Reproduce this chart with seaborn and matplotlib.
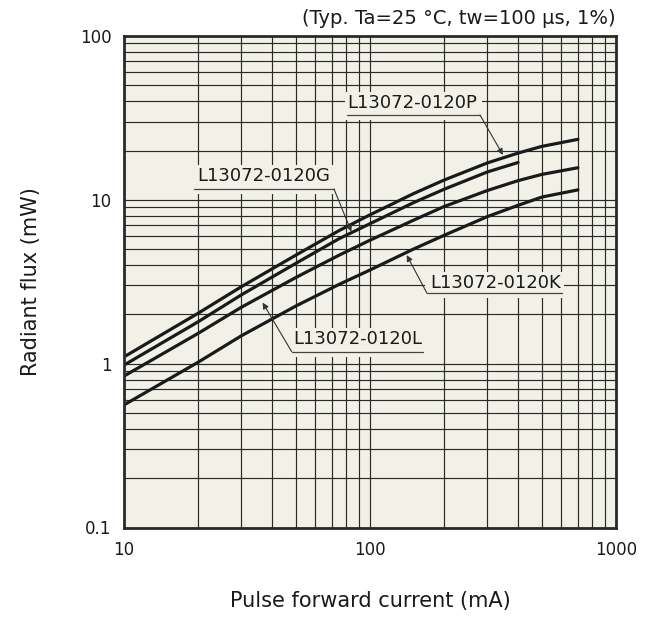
import numpy as np
import pandas as pd
import matplotlib
matplotlib.use("Agg")
import matplotlib.pyplot as plt
import matplotlib.ticker as mticker
import seaborn as sns

# ---- data ----
current_ma = [10, 20, 30, 50, 75, 100, 150, 200, 300, 400, 500, 700]
flux_P = [1.1, 2.03, 2.95, 4.6, 6.5, 8.1, 10.9, 13.2, 16.8, 19.3, 21.2, 23.4]
current_G = [10, 20, 30, 50, 75, 100, 150, 200, 300, 400]
flux_G = [0.98, 1.8, 2.63, 4.1, 5.8, 7.15, 9.6, 11.6, 14.8, 16.9]
flux_L = [0.84, 1.53, 2.21, 3.36, 4.6, 5.67, 7.5, 9.1, 11.4, 13.1, 14.3, 15.7]
flux_K = [0.56, 1.02, 1.48, 2.25, 3.05, 3.73, 5.0, 6.07, 7.9, 9.26, 10.4, 11.5]

series_names = ["L13072-0120P", "L13072-0120G", "L13072-0120L", "L13072-0120K"]
x_ticks = [10, 100, 1000]
y_ticks = [0.1, 1, 10, 100]
note_text = "(Typ. Ta=25 °C, tw=100 µs, 1%)"
x_label = "Pulse forward current (mA)"
y_label = "Radiant flux (mW)"

frames = [
    pd.DataFrame({"I": current_ma, "P": flux_P, "s": series_names[0]}),
    pd.DataFrame({"I": current_G, "P": flux_G, "s": series_names[1]}),
    pd.DataFrame({"I": current_ma, "P": flux_L, "s": series_names[2]}),
    pd.DataFrame({"I": current_ma, "P": flux_K, "s": series_names[3]}),
]
df = pd.concat(frames, ignore_index=True)

sns.set_style("white")
plt.rcParams["font.family"] = ["DejaVu Sans"]

W, H = 654, 625
fig = plt.figure(figsize=(W / 100, H / 100), dpi=100)
L, R, T, B = 124, 616, 36, 527.5
ax = fig.add_axes([L / W, (H - B) / H, (R - L) / W, (B - T) / H])
bg = "#f2f1e8"
ax.set_facecolor(bg)

sns.lineplot(data=df, x="I", y="P", hue="s", palette=["#1a1a1a"] * 4,
             linewidth=2.3, legend=False, ax=ax, sort=True, estimator=None, zorder=4)

ax.set_xscale("log")
ax.set_yscale("log")
ax.set_xlim(10, 1000)
ax.set_ylim(0.1, 100)

ax.xaxis.set_major_locator(mticker.FixedLocator(x_ticks))
ax.yaxis.set_major_locator(mticker.FixedLocator(y_ticks))
ax.xaxis.set_minor_locator(mticker.LogLocator(base=10, subs=np.arange(2, 10)))
ax.yaxis.set_minor_locator(mticker.LogLocator(base=10, subs=np.arange(2, 10)))
fmt = mticker.FuncFormatter(lambda v, p: f"{v:g}")
ax.xaxis.set_major_formatter(fmt)
ax.yaxis.set_major_formatter(fmt)
ax.xaxis.set_minor_formatter(mticker.NullFormatter())
ax.yaxis.set_minor_formatter(mticker.NullFormatter())

ax.grid(True, which="both", color="#2a2a2a", linewidth=0.85)
ax.set_axisbelow(True)
ax.tick_params(which="both", length=0, labelsize=12, colors="#1a1a1a")
ax.tick_params(axis="x", pad=9.5)
ax.tick_params(axis="y", pad=9)
for sp in ax.spines.values():
    sp.set_linewidth(2.0)
    sp.set_color("#2a2a2a")
    sp.set_zorder(6)

ax.set_xlabel(x_label, fontsize=15, labelpad=23, color="#1a1a1a")
ax.set_ylabel(y_label, fontsize=15, labelpad=28, color="#1a1a1a")

ax.text(1.0, 1 + (T - 18) / (B - T), note_text, transform=ax.transAxes,
        ha="right", va="center", fontsize=14, color="#1a1a1a")

def fx(px):
    return (px - L) / (R - L)

def fy(py):
    return (B - py) / (B - T)

# label: (name, text center px, underline y px, underline x0, x1, leader start x px, arrow tip data)
labels = [
    (series_names[0], (412, 103), 115, 347, 480, 480, (347, 18.8)),
    (series_names[1], (264, 176), 189, 194, 334, 334, (84, 6.4)),
    (series_names[2], (358, 339), 351.7, 291.7, 423, 291.7, (36.6, 2.36)),
    (series_names[3], (496, 283), 293.3, 427, 562, 427, (141, 4.6)),
]
for name, (cx, cy), uy, ux0, ux1, sx, tip in labels:
    ax.add_patch(plt.Rectangle((fx(ux0 - 2), fy(uy + 5)), fx(ux1 + 2) - fx(ux0 - 2),
                               fy(cy - 11) - fy(uy + 5), transform=ax.transAxes,
                               facecolor=bg, edgecolor="none", zorder=3))
    ax.text(fx(cx), fy(cy), name, transform=ax.transAxes, ha="center", va="center",
            fontsize=13, color="#1a1a1a", zorder=5)
    ax.plot([fx(ux0), fx(ux1)], [fy(uy), fy(uy)], transform=ax.transAxes,
            color="#444444", linewidth=0.9, zorder=5)
    ax.annotate("", xy=tip, xycoords="data", xytext=(fx(sx), fy(uy)),
                textcoords="axes fraction",
                arrowprops=dict(arrowstyle="-|>", color="#333333", lw=0.8,
                                mutation_scale=9, shrinkA=0, shrinkB=0),
                zorder=5)

fig.savefig("out.png", dpi=100, facecolor="white")
